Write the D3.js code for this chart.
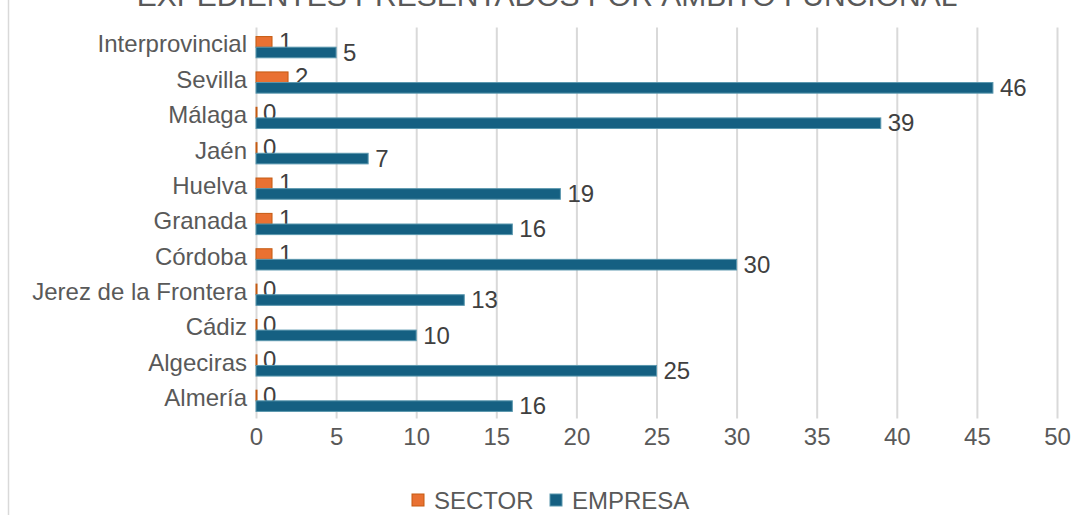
<!DOCTYPE html>
<html>
<head>
<meta charset="utf-8">
<script src="https://cdn.jsdelivr.net/npm/d3@7"></script>
<style>
  html, body { margin: 0; padding: 0; background: #ffffff; }
  svg { display: block; font-family: "Liberation Sans", Arial, sans-serif; }
</style>
</head>
<body>
<div id="chart"></div>
<script>
const categories = ['Interprovincial', 'Sevilla', 'Málaga', 'Jaén', 'Huelva', 'Granada',
    'Córdoba', 'Jerez de la Frontera', 'Cádiz', 'Algeciras', 'Almería'];
const sectorValues = [1, 2, 0, 0, 1, 1, 1, 0, 0, 0, 0];
const empresaValues = [5, 46, 39, 7, 19, 16, 30, 13, 10, 25, 16];
const seriesNames = ['SECTOR', 'EMPRESA'];
const xTicks = [0, 5, 10, 15, 20, 25, 30, 35, 40, 45, 50];
const titleText = 'EXPEDIENTES PRESENTADOS POR ÁMBITO FUNCIONAL';

const width = 1078;
const height = 515;
const margin = { top: 29.5, right: 21, bottom: 96.5, left: 256 };
const plotW = width - margin.left - margin.right;
const plotH = height - margin.top - margin.bottom;

const colors = { SECTOR: '#E97132', EMPRESA: '#156082' };
const strokes = { SECTOR: '#C55A11', EMPRESA: '#5a97ae' };
const textColor = '#595959';
const labelColor = '#404040';
const fontSize = 24;

const svg = d3.select('#chart').append('svg')
    .attr('width', width)
    .attr('height', height);

// chart area border (left edge visible)
svg.append('line')
    .attr('x1', 8.5).attr('x2', 8.5)
    .attr('y1', 0).attr('y2', height)
    .attr('stroke', '#d9d9d9').attr('stroke-width', 1.5);

// title, clipped at the top like the reference
svg.append('text')
    .attr('x', 547)
    .attr('y', 6)
    .attr('text-anchor', 'middle')
    .attr('fill', textColor)
    .attr('font-size', 30)
    .text(titleText);

const g = svg.append('g')
    .attr('transform', `translate(${margin.left},${margin.top})`);

const x = d3.scaleLinear().domain([0, 50]).range([0, plotW]);
const y = d3.scaleBand().domain(categories).range([0, plotH]).paddingInner(0.4).paddingOuter(0.2);
const ySub = d3.scaleBand().domain(seriesNames).range([0, y.bandwidth()]);

// gridlines
g.append('g')
    .selectAll('line')
    .data(xTicks)
    .join('line')
    .attr('x1', (d) => x(d) + 0.5)
    .attr('x2', (d) => x(d) + 0.5)
    .attr('y1', -2)
    .attr('y2', plotH)
    .attr('stroke', '#d9d9d9')
    .attr('stroke-width', 2);

// x axis labels
const xAxis = g.append('g')
    .attr('transform', `translate(0,${plotH})`)
    .call(d3.axisBottom(x).tickValues(xTicks).tickSize(0).tickPadding(9));
xAxis.select('.domain').remove();
xAxis.selectAll('text')
    .attr('fill', textColor)
    .attr('font-size', fontSize)
    .attr('font-family', '"Liberation Sans", Arial, sans-serif');

// y axis labels
const yAxis = g.append('g')
    .call(d3.axisLeft(y).tickSize(0).tickPadding(9));
yAxis.select('.domain').remove();
yAxis.selectAll('text')
    .attr('fill', textColor)
    .attr('font-size', fontSize)
    .attr('dy', '0.22em')
    .attr('font-family', '"Liberation Sans", Arial, sans-serif');

const rows = categories.map((c, i) => ({
    cat: c,
    SECTOR: sectorValues[i],
    EMPRESA: empresaValues[i]
}));

seriesNames.forEach((s) => {
    const bars = g.append('g');
    bars.selectAll('rect')
        .data(rows)
        .join('rect')
        .attr('x', x(0))
        .attr('y', (d) => y(d.cat) + ySub(s))
        .attr('width', (d) => Math.max(x(d[s]) - x(0), 1))
        .attr('height', ySub.bandwidth())
        .attr('fill', colors[s])
        .attr('stroke', strokes[s])
        .attr('stroke-width', 1);

    bars.selectAll('text')
        .data(rows)
        .join('text')
        .attr('x', (d) => x(d[s]) + 7)
        .attr('y', (d) => y(d.cat) + ySub(s) + ySub.bandwidth() / 2)
        .attr('dy', '0.34em')
        .attr('fill', labelColor)
        .attr('font-size', fontSize)
        .text((d) => d[s]);
});

// legend
const legend = svg.append('g').attr('transform', 'translate(0,500)');
const legendItems = [
    { name: 'SECTOR', x: 412 },
    { name: 'EMPRESA', x: 550 }
];
legendItems.forEach((it) => {
    legend.append('rect')
        .attr('x', it.x)
        .attr('y', -6)
        .attr('width', 12)
        .attr('height', 12)
        .attr('fill', colors[it.name])
        .attr('stroke', strokes[it.name]);
    legend.append('text')
        .attr('x', it.x + 22)
        .attr('y', 0)
        .attr('dy', '0.36em')
        .attr('fill', textColor)
        .attr('font-size', fontSize)
        .text(it.name);
});
</script>
</body>
</html>
